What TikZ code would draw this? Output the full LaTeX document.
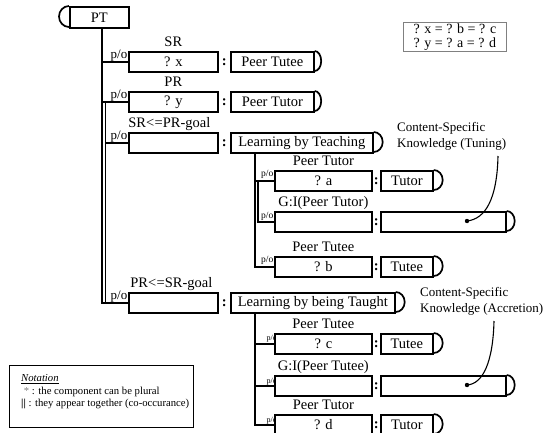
\documentclass[tikz,border=0pt]{standalone}
\usepackage{fontspec}
\setmainfont{Liberation Serif}
\usetikzlibrary{calc}
\newcommand\rcapon[2]{\draw[line width=1.7pt] (#1.north east) arc[start angle=90,end angle=-90,x radius=#2,y radius=10pt];}
\begin{document}
\begin{tikzpicture}[x=1pt,y=-1pt,
 box/.style={draw,line width=1.7pt,inner sep=0pt,minimum height=20pt,anchor=north west,fill=white,font=\fontsize{14.5}{16}\selectfont},
 lbl/.style={inner sep=0pt,anchor=base,yshift=4.5pt,font=\fontsize{14.5}{16}\selectfont},
 colon/.style={inner sep=0pt,font=\fontsize{14.5}{16}\selectfont\bfseries},
 conn/.style={line width=1.5pt},
 pobig/.style={inner sep=0.5pt,anchor=south east,font=\fontsize{13}{14}\selectfont},
 pomid/.style={inner sep=0.5pt,anchor=south east,font=\fontsize{9.5}{10}\selectfont},
 posmall/.style={inner sep=0pt,anchor=south east,font=\fontsize{8}{9}\selectfont},
 ann/.style={inner sep=0pt,anchor=north west,align=left,font=\fontsize{13}{16}\selectfont},
]
\useasboundingbox (0,0) rectangle (549,432);

% ---------- root
\node[box,minimum width=59pt,minimum height=21pt] (pt) at (69,6) {PT};
\draw[line width=1.7pt] (pt.north west) arc[start angle=90,end angle=270,x radius=10pt,y radius=10.5pt];

% ---------- small p/o labels placed under the boxes
\node[pomid] (po5) at (274,179) {p/o};
\node[pomid] (po6) at (274,221) {p/o};
\node[pomid] (po7) at (274,265) {p/o};
\node[posmall] (po8) at (277,342) {p/o};
\node[posmall] (po9) at (277,385) {p/o};
\node[posmall] (po10) at (277,424) {p/o};

% ---------- main level
\node[box,minimum width=89pt] (b1) at (128,51) {? x};
\node[box,minimum width=89pt] (b2) at (128,91) {? y};
\node[box,minimum width=89pt] (b3) at (128,132) {};
\node[box,minimum width=89pt] (b4) at (128,292) {};
\node[lbl] (l1) at (b1.north) {SR};
\node[lbl] (l2) at (b2.north) {PR};
\node[lbl,xshift=-4pt] (l3) at (b3.north) {SR<\kern0.5pt=PR-goal};
\node[lbl,xshift=-2pt] (l4) at (b4.north) {PR<\kern0.5pt=SR-goal};

\node[box,minimum width=83pt] (t1) at (230,51) {Peer Tutee};
\node[box,minimum width=83pt] (t2) at (230,91) {Peer Tutor};
\node[box,minimum width=142pt] (t3) at (230,132) {Learning by Teaching};
\node[box,minimum width=164pt] (t4) at (230,292) {Learning by being Taught};
\rcapon{t1}{6.5pt}
\rcapon{t2}{6.5pt}
\rcapon{t3}{9pt}
\rcapon{t4}{9pt}
\node[colon] (c1) at ($(b1.east)!0.5!(t1.west)$) {:};
\node[colon] (c2) at ($(b2.east)!0.5!(t2.west)$) {:};
\node[colon] (c3) at ($(b3.east)!0.5!(t3.west)$) {:};
\node[colon] (c4) at ($(b4.east)!0.5!(t4.west)$) {:};

\node[pobig] (po1) at (b1.west) {p/o};
\node[pobig] (po2) at (b2.west) {p/o};
\node[pobig] (po3) at (b3.west) {p/o};
\node[pobig] (po4) at (b4.west) {p/o};

% ---------- sub-tree 1
\node[box,minimum width=97pt] (qa) at (274,170) {? a};
\node[box,minimum width=97pt] (g1) at (274,211) {};
\node[box,minimum width=97pt] (qb) at (274,256) {? b};
\node[lbl] (la) at (qa.north) {Peer Tutor};
\node[lbl] (lg1) at (g1.north) {G:I(Peer Tutor)};
\node[lbl] (lb) at (qb.north) {Peer Tutee};
\node[box,minimum width=52pt] (ta) at (380,170) {Tutor};
\node[box,minimum width=125pt] (tg1) at (380,211) {};
\node[box,minimum width=52pt] (tb) at (380,256) {Tutee};
\rcapon{ta}{9pt}
\rcapon{tg1}{8pt}
\rcapon{tb}{9pt}
\node[colon] (ca) at ($(qa.east)!0.5!(ta.west)$) {:};
\node[colon] (cg1) at ($(g1.east)!0.5!(tg1.west)$) {:};
\node[colon] (cb) at ($(qb.east)!0.5!(tb.west)$) {:};

% ---------- sub-tree 2
\node[box,minimum width=97pt] (qc) at (274,333) {? c};
\node[box,minimum width=97pt] (g2) at (274,375) {};
\node[box,minimum width=97pt] (qd) at (274,414) {? d};
\node[lbl] (lc) at (qc.north) {Peer Tutee};
\node[lbl] (lg2) at (g2.north) {G:I(Peer Tutee)};
\node[lbl] (ld) at (qd.north) {Peer Tutor};
\node[box,minimum width=52pt] (tc) at (380,333) {Tutee};
\node[box,minimum width=125pt] (tg2) at (380,375) {};
\node[box,minimum width=52pt] (td) at (380,414) {Tutor};
\rcapon{tc}{9pt}
\rcapon{tg2}{8pt}
\rcapon{td}{9pt}
\node[colon] (cc) at ($(qc.east)!0.5!(tc.west)$) {:};
\node[colon] (cg2) at ($(g2.east)!0.5!(tg2.west)$) {:};
\node[colon] (cd) at ($(qd.east)!0.5!(td.west)$) {:};

% ---------- connectors, main trunk
\coordinate (tr) at (102,0);
\coordinate (trb) at (105.3,0);
\draw[conn] (tr |- pt.south) -- (tr |- b4.west) -- (b4.west);
\draw[conn] (tr |- b1.west) -- (b1.west);
\draw[conn] (tr |- b2.west) -- (b2.west);
\draw[conn] (trb |- b2.west) -- (trb |- b4.west);
\draw[conn] (trb |- b3.west) -- (b3.west);

% sub-tree 1 connectors
\coordinate (s1) at (255,0);
\coordinate (s1b) at (257.8,0);
\draw[conn] (s1 |- t3.south) -- (s1 |- qb.west) -- (qb.west);
\draw[conn] (s1 |- qa.west) -- (qa.west);
\draw[conn] (s1b |- qa.west) -- (s1b |- g1.west) -- (g1.west);

% sub-tree 2 connectors
\draw[conn] (s1 |- t4.south) -- (s1 |- qd.west) -- (qd.west);
\draw[conn] (s1 |- qc.west) -- (qc.west);
\draw[conn] (s1 |- g2.west) -- (g2.west);

% ---------- annotations
\node[ann] (k1) at (397,122) {Content-Specific\\Knowledge (Tuning)};
\node[ann] (k2) at (420,287) {Content-Specific\\Knowledge (Accretion)};
\coordinate (k1e) at (498,156);
\coordinate (k2e) at (494,321);
\coordinate (d1) at (467,221);
\coordinate (d2) at (467,385);
\fill (d1) circle[radius=2.2pt];
\fill (d2) circle[radius=2.2pt];
\draw[line width=1.1pt] (k1e) .. controls (497,200) and (485,219) .. (d1);
\draw[line width=1.1pt] (k2e) .. controls (493,362) and (483,384) .. (d2);

% ---------- equality box
\node[draw=gray,line width=0.8pt,anchor=north west,minimum width=103pt,minimum height=29pt,inner sep=0pt,align=center,font=\fontsize{14}{14.5}\selectfont] (eq) at (403,22) {? x = ? b = ? c\\? y = ? a = ? d};

% ---------- notation box
\node[draw,line width=1.1pt,anchor=north west,minimum width=184pt,minimum height=62pt,inner sep=0pt] (nb) at (9,365) {};
\node[anchor=north west,align=left,inner sep=0pt,font=\fontsize{10.7}{12.8}\selectfont] (nt) at (21,374) {\underline{\textit{Notation}}\\ \ \textcolor{gray}{*} : the component can be plural\\ \textbf{||} : they appear together (co-occurance)};
\end{tikzpicture}
\end{document}
